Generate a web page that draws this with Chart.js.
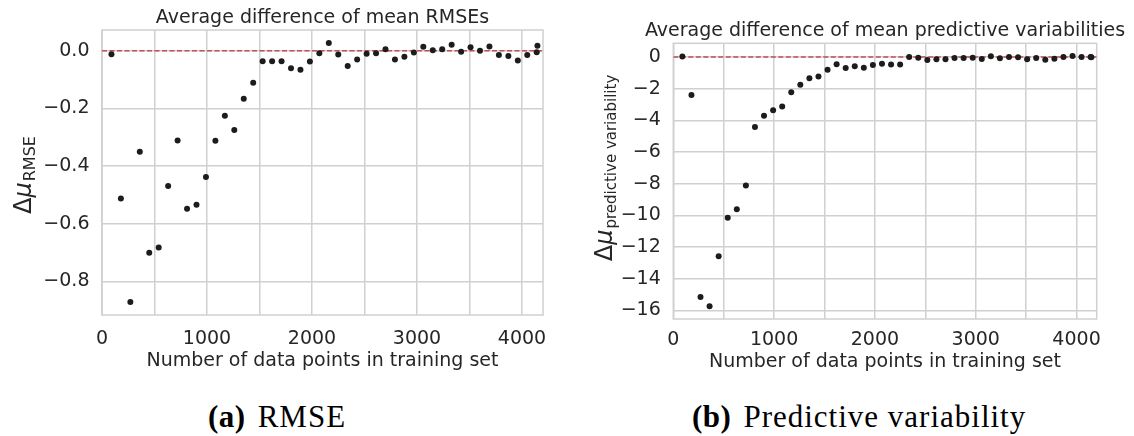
<!DOCTYPE html>
<html>
<head>
<meta charset="utf-8">
<script src="https://cdn.jsdelivr.net/npm/chart.js@4.4.1/dist/chart.umd.min.js"></script>
<style>
  html, body { margin: 0; padding: 0; background: #fff; }
  #wrap { position: relative; width: 1134px; height: 436px; overflow: hidden; }
  canvas { position: absolute; top: 0; }
  #rmseChart { left: 0; }
  #varChart { left: 567px; }
  .cap { position: absolute; top: 401px; font-family: "Liberation Serif", "DejaVu Serif", serif;
         font-size: 31px; line-height: 1; letter-spacing: 1px; color: #000; white-space: nowrap; }
  .cap b { margin-right: 12px; letter-spacing: 0.5px; }
  #capA { left: 208px; }
  #capB { left: 692px; }
</style>
</head>
<body>
<div id="wrap">
  <canvas id="rmseChart" width="567" height="380"></canvas>
  <canvas id="varChart" width="567" height="380"></canvas>
  <div class="cap" id="capA"><b>(a)</b>RMSE</div>
  <div class="cap" id="capB"><b>(b)</b>Predictive variability</div>
</div>
<script>
// Training-set sizes (shared by both panels)
const trainSizes = [90, 180, 270, 360, 450, 540, 630, 720, 810, 900,
  990, 1080, 1170, 1260, 1350, 1440, 1530, 1620, 1710, 1800,
  1890, 1980, 2070, 2160, 2250, 2340, 2430, 2520, 2610, 2700,
  2790, 2880, 2970, 3060, 3150, 3240, 3330, 3420, 3510, 3600,
  3690, 3780, 3870, 3960, 4050, 4140, 4147];

// Average difference of mean RMSEs
const rmseDiff = [-0.012, -0.512, -0.871, -0.350, -0.700, -0.682, -0.469, -0.311, -0.548, -0.534,
  -0.438, -0.312, -0.225, -0.275, -0.166, -0.111, -0.036, -0.036, -0.036, -0.061,
  -0.066, -0.037, -0.009, 0.027, -0.013, -0.053, -0.030, -0.010, -0.009, 0.005,
  -0.030, -0.021, -0.006, 0.014, 0.002, 0.005, 0.021, -0.003, 0.012, 0.000,
  0.015, -0.015, -0.018, -0.034, -0.015, -0.005, 0.017];

// Average difference of mean predictive variabilities
const varDiff = [0.03, -2.40, -15.16, -15.75, -12.59, -10.15, -9.62, -8.11, -4.42, -3.71,
  -3.37, -3.12, -2.23, -1.75, -1.35, -1.24, -0.80, -0.46, -0.69, -0.59,
  -0.68, -0.51, -0.42, -0.48, -0.48, 0.00, -0.04, -0.19, -0.15, -0.15,
  -0.06, -0.06, -0.04, -0.13, 0.04, -0.08, 0.00, -0.02, -0.15, -0.06,
  -0.17, -0.11, 0.00, 0.06, 0.00, 0.00, -0.02];

// Axis limits, grid positions and tick labels
const xLimits = [0, 4200];
const xGridValues = [0, 500, 1000, 1500, 2000, 2500, 3000, 3500, 4000];
const xTickLabels = ['0', '', '1000', '', '2000', '', '3000', '', '4000'];
const rmseLimits = [-0.916, 0.072];
const rmseGridValues = [-0.8, -0.6, -0.4, -0.2, 0];
const rmseTickLabels = ['\u22120.8', '\u22120.6', '\u22120.4', '\u22120.2', '0.0'];
const varLimits = [-16.55, 0.865];
const varGridValues = [-16, -14, -12, -10, -8, -6, -4, -2, 0];
const varTickLabels = ['\u221216', '\u221214', '\u221212', '\u221210', '\u22128', '\u22126', '\u22124', '\u22122', '0'];

const FONT = '"DejaVu Sans", sans-serif';
const INK = '#262626';
const GRID = '#d0d0d0';
const DOT = '#1c1c1c';
const ZERO_LINE = '#c44e52';

// Frame, panel title and Δμ axis label with subscript
function panelDecor(opts) {
  return {
    id: 'panelDecor',
    beforeDatasetsDraw(chart) {
      const { ctx, chartArea: a } = chart;
      ctx.save();
      ctx.strokeStyle = GRID;
      ctx.lineWidth = 1.5;
      ctx.strokeRect(a.left, a.top, a.right - a.left, a.bottom - a.top);
      ctx.restore();
    },
    afterDraw(chart) {
      const { ctx, chartArea: a } = chart;
      ctx.save();
      ctx.fillStyle = INK;
      ctx.font = `19px ${FONT}`;
      ctx.textAlign = 'center';
      ctx.textBaseline = 'alphabetic';
      ctx.fillText(opts.title, (a.left + a.right) / 2, a.top - 7.5);

      ctx.translate(opts.labelX, opts.labelY);
      ctx.rotate(-Math.PI / 2);
      ctx.textAlign = 'left';
      const big = `24px ${FONT}`, bigIt = `italic 24px ${FONT}`, small = `${opts.subSize}px ${FONT}`;
      ctx.font = big; const wD = ctx.measureText('Δ').width;
      ctx.font = bigIt; const wM = ctx.measureText('μ').width;
      ctx.font = small; const wS = ctx.measureText(opts.sub).width;
      let x = -(wD + wM + 1 + wS) / 2;
      ctx.font = big; ctx.fillText('Δ', x, 0); x += wD;
      ctx.font = bigIt; ctx.fillText('μ', x, 0); x += wM + 1;
      ctx.font = small; ctx.fillText(opts.sub, x, 4);
      ctx.restore();
    }
  };
}

function fixedTicks(values) {
  return scale => { scale.ticks = values.map(v => ({ value: v })); };
}

function makePanel(id, cfg) {
  const points = trainSizes.map((v, i) => ({ x: v, y: cfg.values[i] }));
  return new Chart(document.getElementById(id), {
    type: 'scatter',
    data: {
      datasets: [
        { data: points, backgroundColor: DOT, borderWidth: 0, pointRadius: 3, pointHoverRadius: 3 },
        { type: 'line', data: [{ x: xLimits[0], y: 0 }, { x: xLimits[1], y: 0 }],
          borderColor: ZERO_LINE, borderWidth: 1.4, borderDash: [5, 2.5], pointRadius: 0, fill: false }
      ]
    },
    options: {
      responsive: false,
      animation: false,
      devicePixelRatio: 1,
      layout: { padding: { left: 0, top: cfg.top, right: cfg.padRight, bottom: 0 } },
      plugins: { legend: { display: false }, tooltip: { enabled: false }, title: { display: false } },
      scales: {
        x: {
          type: 'linear', min: xLimits[0], max: xLimits[1],
          afterBuildTicks: fixedTicks(xGridValues),
          afterFit(s) { s.height = cfg.xAxisH; },
          ticks: { autoSkip: false, maxRotation: 0,
                   padding: cfg.xTickPad, color: INK, font: { family: FONT, size: 19 },
                   callback: (v, i) => xTickLabels[i] },
          grid: { color: GRID, lineWidth: 1.5, drawTicks: false },
          border: { display: false },
          title: { display: true, text: 'Number of data points in training set', color: INK,
                   font: { family: FONT, size: 19 }, padding: { top: 0, bottom: cfg.xTitlePad } }
        },
        y: {
          type: 'linear', min: cfg.yLimits[0], max: cfg.yLimits[1],
          afterBuildTicks: fixedTicks(cfg.yGrid),
          afterFit(s) { s.width = cfg.yAxisW; },
          ticks: { autoSkip: false, padding: 12.5,
                   color: INK, font: { family: FONT, size: 19 }, callback: (v, i) => cfg.yLabels[i] },
          grid: { color: GRID, lineWidth: 1.5, drawTicks: false },
          border: { display: false }
        }
      }
    },
    plugins: [panelDecor({ title: cfg.title, sub: cfg.sub, subSize: cfg.subSize,
                           labelX: cfg.labelX, labelY: cfg.labelY })]
  });
}

makePanel('rmseChart', {
  values: rmseDiff, yLimits: rmseLimits, yGrid: rmseGridValues, yLabels: rmseTickLabels,
  top: 30, padRight: 24, yAxisW: 102, xAxisH: 65, xTickPad: 12.5, xTitlePad: 7.6,
  title: 'Average difference of mean RMSEs', sub: 'RMSE', subSize: 16, labelX: 31, labelY: 175
});

makePanel('varChart', {
  values: varDiff, yLimits: varLimits, yGrid: varGridValues, yLabels: varTickLabels,
  top: 43.3, padRight: 37.3, yAxisW: 106.3, xAxisH: 61, xTickPad: 9.5, xTitlePad: 6.9,
  title: 'Average difference of mean predictive variabilities', sub: 'predictive variability',
  subSize: 15, labelX: 45, labelY: 168
});
</script>
</body>
</html>
